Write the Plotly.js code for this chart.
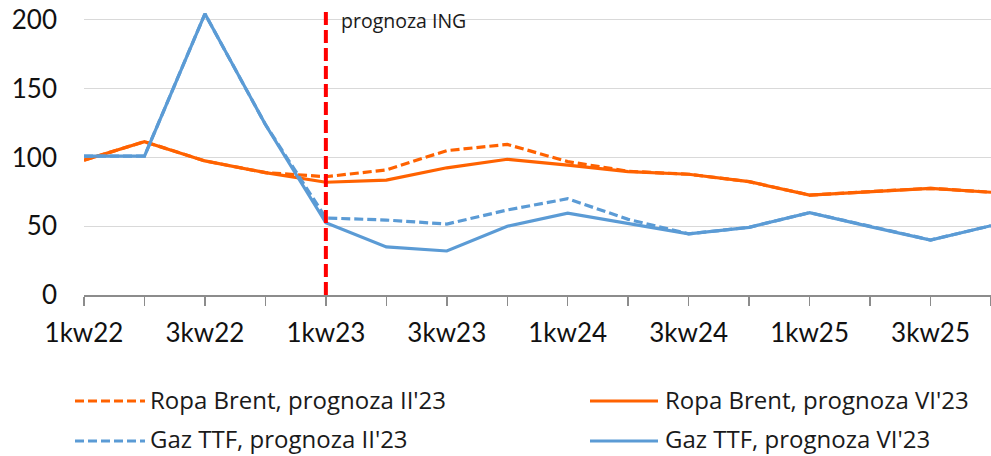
<!DOCTYPE html>
<html>
<head>
<meta charset="utf-8">
<script src="https://cdn.plot.ly/plotly-3.0.1.min.js"></script>
<style>html,body{margin:0;padding:0;background:#fff;}#chart{width:991px;height:456px;}</style>
</head>
<body>
<div id="chart"></div>
<script>
// Data
var quarters = ['1kw22','2kw22','3kw22','4kw22','1kw23','2kw23','3kw23','4kw23','1kw24','2kw24','3kw24','4kw24','1kw25','2kw25','3kw25','4kw25'];
var brentFeb = [98, 111.5, 97.5, 89, 86, 91, 105, 109.5, 97, 90, 87.8, 82.4, 72.7, 75.2, 77.6, 74.7];
var brentJun = [98, 111.5, 97.5, 89, 82, 83.5, 92.5, 98.7, 94.5, 89.7, 87.8, 82.4, 72.7, 75.2, 77.6, 74.7];
var gasFeb = [101, 101, 204.5, 124, 56, 54.5, 51.6, 61.8, 70, 55, 44.5, 49.2, 59.9, 49.7, 40, 50.4];
var gasJun = [101, 101, 204.5, 124, 52.5, 35, 32, 50, 59.5, 52, 44.5, 49.2, 59.9, 49.7, 40, 50.4];
var seriesNames = ["Ropa Brent, prognoza II'23", "Ropa Brent, prognoza VI'23", "Gaz TTF, prognoza II'23", "Gaz TTF, prognoza VI'23"];
var forecastStart = '1kw23';
var forecastLabel = 'prognoza ING';
var yTicks = [0, 50, 100, 150, 200];

var ORANGE = '#FF6200', BLUE = '#5B9BD5';
var DASH = '9px,4px';

var tickText = quarters.map(function(q, i){ return i % 2 === 0 ? q : ''; });

var traces = [
  {x: quarters, y: brentFeb, name: seriesNames[0], mode: 'lines', line: {color: ORANGE, width: 3.2, dash: DASH}},
  {x: quarters, y: brentJun, name: seriesNames[1], mode: 'lines', line: {color: ORANGE, width: 3.2}},
  {x: quarters, y: gasFeb, name: seriesNames[2], mode: 'lines', line: {color: BLUE, width: 3.2, dash: DASH}},
  {x: quarters, y: gasJun, name: seriesNames[3], mode: 'lines', line: {color: BLUE, width: 3.2}}
];

// pixel helpers for legend placement (plot area: left 84, width 907, top 8, height 287)
function px(x){ return (x - 84) / 907; }
function py(y){ return (295 - y) / 287; }

var legendItems = [
  {col: 0, row: 0, color: ORANGE, dash: DASH, name: seriesNames[0]},
  {col: 1, row: 0, color: ORANGE, dash: 'solid', name: seriesNames[1]},
  {col: 0, row: 1, color: BLUE, dash: DASH, name: seriesNames[2]},
  {col: 1, row: 1, color: BLUE, dash: 'solid', name: seriesNames[3]}
];
var colLine = [[75, 145], [590, 658]];
var colText = [152, 667];
var rowY = [401, 441];
var rowTextY = [400, 439];

var shapes = [{
  type: 'line', xref: 'x', yref: 'paper', x0: forecastStart, x1: forecastStart, y0: 0, y1: 1,
  line: {color: '#FF0000', width: 4, dash: '13px,5px'}, layer: 'above'
}];
var annotations = [{
  xref: 'paper', yref: 'paper', x: px(339), y: py(21), xanchor: 'left', yanchor: 'middle',
  text: forecastLabel, showarrow: false, font: {family: 'Open Sans', size: 19.5, color: '#1a1a1a'}
}];
legendItems.forEach(function(it){
  shapes.push({type: 'line', xref: 'paper', yref: 'paper',
    x0: px(colLine[it.col][0]), x1: px(colLine[it.col][1]), y0: py(rowY[it.row]), y1: py(rowY[it.row]),
    line: {color: it.color, width: 3.2, dash: it.dash}});
  annotations.push({xref: 'paper', yref: 'paper', x: px(colText[it.col] - 3), y: py(rowTextY[it.row]),
    xanchor: 'left', yanchor: 'middle', text: it.name, showarrow: false, borderpad: 0,
    font: {family: 'Open Sans', size: 24, color: '#1a1a1a'}});
});

var layout = {
  width: 991, height: 456,
  margin: {l: 84, r: 0, t: 8, b: 161, pad: 0},
  paper_bgcolor: '#fff', plot_bgcolor: '#fff',
  showlegend: false,
  xaxis: {
    type: 'category', range: [0, 15], tickmode: 'array', tickvals: quarters, ticktext: tickText,
    showgrid: false, zeroline: false, showline: true, linecolor: '#8c8c8c', linewidth: 1.5,
    ticks: 'outside', ticklen: 9, tickcolor: '#8c8c8c', tickwidth: 1.5,
    tickfont: {family: 'Lato', size: 26, color: '#111'}, ticklabelstandoff: 5, tickangle: 0
  },
  yaxis: {
    range: [0, 208.7], tickmode: 'array', tickvals: yTicks, showgrid: true, gridcolor: '#d9d9d9', gridwidth: 1,
    zeroline: false, showline: false, ticks: '',
    tickfont: {family: 'Lato', size: 26, color: '#111'}, ticklabelstandoff: 26
  },
  shapes: shapes,
  annotations: annotations
};

Plotly.newPlot('chart', traces, layout, {staticPlot: true, displayModeBar: false});
</script>
</body>
</html>
